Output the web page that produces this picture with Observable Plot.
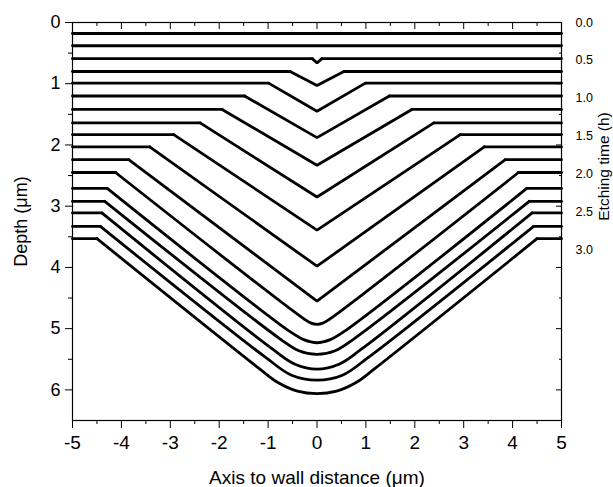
<!DOCTYPE html>
<html>
<head>
<meta charset="utf-8">
<script src="https://cdn.jsdelivr.net/npm/d3@7"></script>
<script src="https://cdn.jsdelivr.net/npm/@observablehq/plot@0.6"></script>
<style>
  html, body { margin: 0; padding: 0; background: #fff; }
  #chart { width: 613px; height: 487px; overflow: hidden; }
</style>
</head>
<body>
<div id="chart"></div>
<script>
// Etched profile of the channel for successive etching steps (left half, mirrored about the axis).
const flatDepth = [0.18, 0.38, 0.59, 0.80, 0.99, 1.20, 1.42, 1.64, 1.83, 2.03, 2.24, 2.45, 2.71, 2.92, 3.11, 3.33, 3.53];
const wallEdge  = [null, null, -0.10, -0.55, -0.99, -1.48, -1.94, -2.39, -2.93, -3.42, -3.85, -4.12, -4.29, -4.34, -4.40, -4.43, -4.50];
const axisDepth = [0.18, 0.38, 0.66, 1.03, 1.45, 1.88, 2.33, 2.85, 3.39, 3.98, 4.55, 4.93, 5.23, 5.42, 5.66, 5.84, 6.06];
// rounded floor of the deeper profiles: [x, depth] between the straight flank and the axis
const floorPoints = {
  11: [[-0.25, 4.85], [-0.12, 4.91]],
  12: [[-0.55, 5.05], [-0.27, 5.18]],
  13: [[-0.75, 5.17], [-0.37, 5.36]],
  14: [[-0.90, 5.34], [-0.45, 5.58]],
  15: [[-1.05, 5.47], [-0.52, 5.76]],
  16: [[-1.20, 5.64], [-0.80, 5.88], [-0.40, 6.02]]
};

const xTicks = [-5, -4, -3, -2, -1, 0, 1, 2, 3, 4, 5];
const xMinor = [-4.5, -3.5, -2.5, -1.5, -0.5, 0.5, 1.5, 2.5, 3.5, 4.5];
const depthTicks = [0, 1, 2, 3, 4, 5, 6];
const depthMinor = [0.5, 1.5, 2.5, 3.5, 4.5, 5.5];
const etchingTimes = [0.0, 0.5, 1.0, 1.5, 2.0, 2.5, 3.0];
const depthPerHour = 1.24; // spacing of the etching-time column in depth units

// split each profile into its two flat tops and its flank (edge → axis → edge)
const rows = [];
flatDepth.forEach((d, i) => {
  const rounded = i in floorPoints;
  const edge = wallEdge[i];
  if (edge === null) {
    rows.push({seg: `${i}-top`, rounded: false, x: -5, depth: d}, {seg: `${i}-top`, rounded: false, x: 5, depth: d});
    return;
  }
  rows.push({seg: `${i}-l`, rounded: false, x: -5, depth: d}, {seg: `${i}-l`, rounded: false, x: edge, depth: d});
  rows.push({seg: `${i}-r`, rounded: false, x: -edge, depth: d}, {seg: `${i}-r`, rounded: false, x: 5, depth: d});
  const half = [[edge, d], ...(floorPoints[i] || [])];
  const flank = [...half, [0, axisDepth[i]], ...half.slice().reverse().map(([x, y]) => [-x, y])];
  flank.forEach(([x, depth]) => rows.push({seg: `${i}-f`, rounded, x, depth}));
});

const font = "Liberation Sans, Arial, Helvetica, sans-serif";
const noText = () => "";
const lineStyle = {x: "x", y: "depth", z: "seg", stroke: "#000", strokeWidth: 2.8};

const chart = Plot.plot({
  width: 613,
  height: 487,
  marginLeft: 72,
  marginRight: 52,
  marginTop: 22,
  marginBottom: 67,
  style: {fontFamily: font, fontSize: "18px", color: "#000", background: "#fff", overflow: "visible"},
  x: {domain: [-5, 5]},
  y: {domain: [0, 6.5], reverse: true},
  marks: [
    Plot.line(rows.filter(r => !r.rounded), {...lineStyle, strokeLinejoin: "miter"}),
    Plot.line(rows.filter(r => r.rounded), {...lineStyle, curve: "catmull-rom"}),
    Plot.frame({stroke: "#000", strokeWidth: 1.2}),
    // bottom axis
    Plot.axisX(xTicks, {anchor: "bottom", tickSize: 8, tickPadding: 7, fontSize: 19, tickFormat: d => String(d),
      label: "Axis to wall distance (μm)", labelAnchor: "center", labelArrow: "none", labelOffset: 63}),
    Plot.axisX(xMinor, {anchor: "bottom", tickSize: 4, tickFormat: noText, label: null}),
    // top mirror ticks
    Plot.axisX(xTicks, {anchor: "top", tickSize: -6, tickFormat: noText, label: null}),
    Plot.axisX(xMinor, {anchor: "top", tickSize: -3, tickFormat: noText, label: null}),
    // left depth axis
    Plot.axisY(depthTicks, {anchor: "left", tickSize: 7, tickPadding: 5, fontSize: 18, tickFormat: d => String(d),
      label: "Depth (μm)", labelAnchor: "center", labelArrow: "none", labelOffset: 58}),
    Plot.axisY(depthMinor, {anchor: "left", tickSize: 4, tickFormat: noText, label: null}),
    // right mirror ticks
    Plot.axisY(depthTicks, {anchor: "right", tickSize: -6, tickFormat: noText, label: null}),
    Plot.axisY(depthMinor, {anchor: "right", tickSize: -3, tickFormat: noText, label: null}),
    // etching time column
    Plot.text(etchingTimes, {y: t => t * depthPerHour, text: t => t.toFixed(1), frameAnchor: "right",
      dx: 14, textAnchor: "start", fontSize: 12.5}),
    Plot.text(["Etching time (h)"], {text: d => d, frameAnchor: "right", dx: 36, dy: -55,
      rotate: -90, textAnchor: "middle", lineAnchor: "top", fontSize: 15.5})
  ]
});

document.getElementById("chart").appendChild(chart);
</script>
</body>
</html>
